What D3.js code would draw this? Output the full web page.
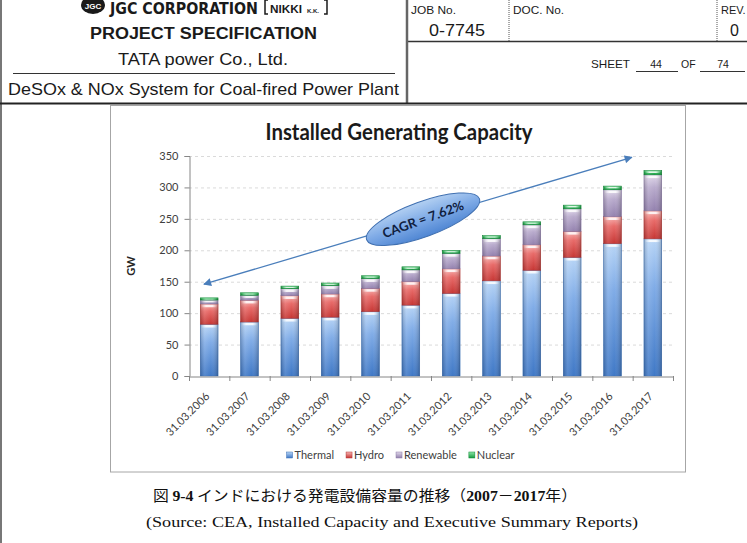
<!DOCTYPE html>
<html>
<head>
<meta charset="utf-8">
<script src="https://cdn.jsdelivr.net/npm/d3@7"></script>
<style>
  html, body { margin: 0; padding: 0; background: #fff; }
  svg { display: block; }
</style>
</head>
<body>
<svg id="page" width="747" height="543"></svg>
<script>
// values (GW at 31 March of each year)
const categories = ["31.03.2006","31.03.2007","31.03.2008","31.03.2009","31.03.2010","31.03.2011",
                    "31.03.2012","31.03.2013","31.03.2014","31.03.2015","31.03.2016","31.03.2017"];
const thermal   = [82.4, 86.0, 91.9, 93.7, 102.5, 112.8, 131.6, 151.5, 168.3, 188.9, 210.7, 218.3];
const hydro     = [32.3, 34.7, 35.9, 36.9, 36.9, 37.6, 39.0, 39.5, 40.5, 41.3, 42.8, 44.5];
const renewable = [6.2, 7.8, 11.1, 13.2, 15.5, 18.5, 24.5, 27.5, 31.7, 35.8, 42.8, 57.3];
const nuclear   = [3.4, 3.9, 4.1, 4.1, 4.6, 4.8, 4.8, 4.8, 4.8, 5.8, 5.8, 6.8];
const seriesNames = ["Thermal", "Hydro", "Renewable", "Nuclear"];
const yTicks = [0, 50, 100, 150, 200, 250, 300, 350];

// CAGR arrow: [category, shift in bands from centre, value]
const cagrLabel = "CAGR = 7.62%";
const cagrFrom = ["31.03.2006", -0.13, 146];
const cagrTo   = ["31.03.2016", 0.48, 348];

const chartTitle = "Installed Generating Capacity";
const yTitle = "GW";

const svg = d3.select("#page");
const defs = svg.append("defs");

// ---------- page header ----------
const head = svg.append("g").attr("font-family", "'Liberation Sans', Arial, sans-serif").attr("fill", "#1a1a1a");

// logo strip at the top of the page
head.append("ellipse").attr("cx", 93).attr("cy", 5).attr("rx", 12).attr("ry", 9).attr("fill", "#1a1a1a");
head.append("text").attr("x", 93).attr("y", 9).attr("text-anchor", "middle")
  .attr("font-size", 8).attr("font-weight", "bold").attr("fill", "#fff").text("JGC");
head.append("text").attr("x", 110).attr("y", 14).attr("font-family", "'Liberation Sans Narrow', 'DejaVu Sans Condensed', sans-serif")
  .attr("font-size", 16).attr("font-weight", "bold").attr("textLength", 148).attr("lengthAdjust", "spacingAndGlyphs")
  .text("JGC CORPORATION");
head.append("path").attr("d", "M268,0 H265 V14 H268 M324,0 H327 V14 H324").attr("fill", "none").attr("stroke", "#1a1a1a").attr("stroke-width", 1.5);
head.append("text").attr("x", 270).attr("y", 13).attr("font-size", 10).attr("font-weight", "bold")
  .attr("textLength", 32).attr("lengthAdjust", "spacingAndGlyphs").text("NIKKI");
head.append("text").attr("x", 307).attr("y", 13).attr("font-size", 6).attr("font-weight", "bold").text("K.K.");

head.append("text").attr("x", 90).attr("y", 39).attr("font-size", 16).attr("font-weight", "bold")
  .attr("textLength", 227).attr("lengthAdjust", "spacingAndGlyphs").text("PROJECT SPECIFICATION");
head.append("text").attr("x", 118).attr("y", 65).attr("font-size", 17)
  .attr("textLength", 170).attr("lengthAdjust", "spacingAndGlyphs").text("TATA power Co., Ltd.");
head.append("line").attr("x1", 13).attr("x2", 395).attr("y1", 73.5).attr("y2", 73.5).attr("stroke", "#333").attr("stroke-width", 1);
head.append("text").attr("x", 8).attr("y", 95).attr("font-size", 17)
  .attr("textLength", 391).attr("lengthAdjust", "spacingAndGlyphs").text("DeSOx & NOx System for Coal-fired Power Plant");

head.append("text").attr("x", 411).attr("y", 14).attr("font-size", 11).attr("textLength", 45).attr("lengthAdjust", "spacingAndGlyphs").text("JOB No.");
head.append("text").attr("x", 513).attr("y", 14).attr("font-size", 11).attr("textLength", 51).attr("lengthAdjust", "spacingAndGlyphs").text("DOC. No.");
head.append("text").attr("x", 721).attr("y", 14).attr("font-size", 11).text("REV.");
head.append("text").attr("x", 429).attr("y", 36).attr("font-size", 16).attr("textLength", 56).attr("lengthAdjust", "spacingAndGlyphs").text("0-7745");
head.append("text").attr("x", 730).attr("y", 36).attr("font-size", 16).text("0");
head.selectAll(".dot").data([509, 717]).enter().append("line")
  .attr("x1", d => d).attr("x2", d => d).attr("y1", 0).attr("y2", 41)
  .attr("stroke", "#555").attr("stroke-width", 1).attr("stroke-dasharray", "1,1");
head.append("line").attr("x1", 407).attr("x2", 747).attr("y1", 41.5).attr("y2", 41.5).attr("stroke", "#333").attr("stroke-width", 1.3);

head.append("text").attr("x", 591).attr("y", 68).attr("font-size", 10.5).attr("textLength", 39).attr("lengthAdjust", "spacingAndGlyphs").text("SHEET");
head.append("text").attr("x", 656).attr("y", 68).attr("font-size", 10.5).attr("text-anchor", "middle").text("44");
head.append("text").attr("x", 681).attr("y", 68).attr("font-size", 10.5).text("OF");
head.append("text").attr("x", 723).attr("y", 68).attr("font-size", 10.5).attr("text-anchor", "middle").text("74");
head.selectAll(".ul").data([[636, 678], [700, 745]]).enter().append("line")
  .attr("x1", d => d[0]).attr("x2", d => d[1]).attr("y1", 71.5).attr("y2", 71.5)
  .attr("stroke", "#333").attr("stroke-width", 1);

// frame lines
head.append("line").attr("x1", 407).attr("x2", 407).attr("y1", 0).attr("y2", 103).attr("stroke", "#666").attr("stroke-width", 2.5);
head.append("line").attr("x1", 1).attr("x2", 1).attr("y1", 0).attr("y2", 543).attr("stroke", "#777").attr("stroke-width", 2);
head.append("line").attr("x1", 0).attr("x2", 747).attr("y1", 103.5).attr("y2", 103.5).attr("stroke", "#222").attr("stroke-width", 2);

// ---------- chart ----------
svg.append("rect").attr("x", 110.5).attr("y", 105.5).attr("width", 575).attr("height", 366.5)
  .attr("fill", "#fff").attr("stroke", "#a6a6a6").attr("stroke-width", 1);

const x = d3.scaleBand().domain(categories).range([189, 673]).paddingInner(0.56).paddingOuter(0.28);
const y = d3.scaleLinear().domain([0, 350]).range([376, 156]);

const chart = svg.append("g").attr("font-family", "Lato, 'Open Sans', sans-serif");

chart.append("text").attr("x", 399).attr("y", 140).attr("text-anchor", "middle")
  .attr("font-size", 22).attr("font-weight", "bold").attr("fill", "#1a1a1a")
  .attr("textLength", 267).attr("lengthAdjust", "spacingAndGlyphs").text(chartTitle);

// grid
chart.append("g").selectAll("line").data(yTicks.filter(d => d > 0)).enter().append("line")
  .attr("x1", x.range()[0]).attr("x2", x.range()[1]).attr("y1", d => y(d) + 0.5).attr("y2", d => y(d) + 0.5)
  .attr("stroke", "#dadada").attr("stroke-dasharray", "3,3");

// y axis
const yAxis = chart.append("g").attr("transform", `translate(${x.range()[0] + 0.5},0)`)
  .call(d3.axisLeft(y).tickValues(yTicks).tickSize(5).tickPadding(6));
yAxis.select(".domain").attr("stroke", "#868686");
yAxis.selectAll(".tick line").attr("stroke", "#868686");
yAxis.selectAll(".tick text").attr("font-family", "Lato, sans-serif").attr("font-size", 11).attr("fill", "#404040");

chart.append("text").attr("transform", `translate(135,${(y(0) + y(350)) / 2}) rotate(-90)`)
  .attr("text-anchor", "middle").attr("font-size", 11).attr("font-weight", "bold").attr("fill", "#262626").text(yTitle);

// series styles
const styles = {
  Thermal:   { top: "#b8d5f6", mid: "#80ace7", bot: "#3f78c6", edge: "#3a6fb5" },
  Hydro:     { top: "#f7b3b1", mid: "#e86a68", bot: "#c63634", edge: "#b03634" },
  Renewable: { top: "#e0d8ea", mid: "#b9abcd", bot: "#9381ae", edge: "#8a78a6" },
  Nuclear:   { top: "#8fe6a8", mid: "#2fc25c", bot: "#149a3e", edge: "#128a38" }
};
seriesNames.forEach((s, i) => {
  const g = defs.append("linearGradient").attr("id", "fill" + i).attr("x1", 0).attr("y1", 0).attr("x2", 0).attr("y2", 1);
  g.append("stop").attr("offset", 0).attr("stop-color", styles[s].top);
  g.append("stop").attr("offset", 0.35).attr("stop-color", styles[s].mid);
  g.append("stop").attr("offset", 1).attr("stop-color", styles[s].bot);
  const l = defs.append("linearGradient").attr("id", "leg" + i).attr("x1", 0).attr("y1", 0).attr("x2", 0).attr("y2", 1);
  l.append("stop").attr("offset", 0).attr("stop-color", styles[s].top);
  l.append("stop").attr("offset", 1).attr("stop-color", styles[s].bot);
});
const side = defs.append("linearGradient").attr("id", "side").attr("x1", 0).attr("x2", 1).attr("y1", 0).attr("y2", 0);
[[0, "#000", 0.18], [0.25, "#fff", 0.12], [0.6, "#fff", 0], [1, "#000", 0.22]].forEach(d =>
  side.append("stop").attr("offset", d[0]).attr("stop-color", d[1]).attr("stop-opacity", d[2]));
const shine = defs.append("linearGradient").attr("id", "shine").attr("x1", 0).attr("x2", 1).attr("y1", 0).attr("y2", 0);
[[0, 0], [0.3, 0.85], [0.7, 0.85], [1, 0]].forEach(d =>
  shine.append("stop").attr("offset", d[0]).attr("stop-color", "#fff").attr("stop-opacity", d[1]));

// stacked bars
const rows = categories.map((c, i) => ({ cat: c, Thermal: thermal[i], Hydro: hydro[i], Renewable: renewable[i], Nuclear: nuclear[i] }));
const stacked = d3.stack().keys(seriesNames)(rows);

const layers = chart.append("g").selectAll("g").data(stacked).enter().append("g");
const seg = layers.selectAll("g").data((d, i) => d.map(p => ({ p, i }))).enter().append("g");
seg.append("rect")
  .attr("x", d => x(d.p.data.cat)).attr("width", x.bandwidth())
  .attr("y", d => y(d.p[1])).attr("height", d => y(d.p[0]) - y(d.p[1]))
  .attr("fill", d => `url(#fill${d.i})`)
  .attr("stroke", d => styles[seriesNames[d.i]].edge).attr("stroke-width", 0.6);
seg.append("rect")
  .attr("x", d => x(d.p.data.cat)).attr("width", x.bandwidth())
  .attr("y", d => y(d.p[1])).attr("height", d => y(d.p[0]) - y(d.p[1]))
  .attr("fill", "url(#side)");
seg.append("rect")
  .attr("x", d => x(d.p.data.cat) + 1).attr("width", x.bandwidth() - 2)
  .attr("y", d => y(d.p[1]) + 0.8).attr("height", d => Math.min(2.5, (y(d.p[0]) - y(d.p[1])) * 0.4))
  .attr("fill", "url(#shine)");

// x axis with ticks between categories
const xAxis = chart.append("g").attr("transform", `translate(0,${y(0) + 0.5})`)
  .call(d3.axisBottom(x).tickSize(0).tickFormat(""));
xAxis.select(".domain").attr("stroke", "#868686");
chart.append("g").selectAll("line").data(d3.range(categories.length + 1)).enter().append("line")
  .attr("x1", i => x.range()[0] + i * x.step() + 0.5).attr("x2", i => x.range()[0] + i * x.step() + 0.5)
  .attr("y1", y(0)).attr("y2", y(0) + 5).attr("stroke", "#868686");
chart.append("g").selectAll("text").data(categories).enter().append("text")
  .attr("transform", d => `translate(${x(d) + x.bandwidth() / 2 + 1},${y(0) + 21}) rotate(-45)`)
  .attr("text-anchor", "end").attr("font-size", 11).attr("fill", "#404040").text(d => d);

// CAGR arrow and callout
const px = a => x(a[0]) + x.bandwidth() / 2 + a[1] * x.step();
const x1 = px(cagrFrom), y1 = y(cagrFrom[2]), x2 = px(cagrTo), y2 = y(cagrTo[2]);
defs.append("marker").attr("id", "arrow").attr("viewBox", "0 0 10 10").attr("refX", 9).attr("refY", 5)
  .attr("markerUnits", "userSpaceOnUse").attr("markerWidth", 9).attr("markerHeight", 8)
  .attr("orient", "auto-start-reverse")
  .append("path").attr("d", "M0,0 L10,5 L0,10 z").attr("fill", "#4a7ebb");
chart.append("line").attr("x1", x1).attr("y1", y1).attr("x2", x2).attr("y2", y2)
  .attr("stroke", "#4a7ebb").attr("stroke-width", 1.3)
  .attr("marker-start", "url(#arrow)").attr("marker-end", "url(#arrow)");

const eg = defs.append("linearGradient").attr("id", "bubble").attr("x1", 0).attr("y1", 0).attr("x2", 0).attr("y2", 1);
eg.append("stop").attr("offset", 0).attr("stop-color", "#b3d0f2");
eg.append("stop").attr("offset", 0.5).attr("stop-color", "#7eaae6");
eg.append("stop").attr("offset", 1).attr("stop-color", "#4f86d3");
const t = 0.512;
const cx = x1 + (x2 - x1) * t, cy = y1 + (y2 - y1) * t;
const bubble = chart.append("g").attr("transform", `translate(${cx},${cy}) rotate(-20)`);
bubble.append("ellipse").attr("rx", 60).attr("ry", 17.5)
  .attr("fill", "url(#bubble)").attr("stroke", "#3f6fb0").attr("stroke-width", 1);
bubble.append("text").attr("text-anchor", "middle").attr("dy", "0.36em")
  .attr("font-size", 13).attr("font-weight", "bold").attr("fill", "#10203e").text(cagrLabel);

// legend
const legend = chart.append("g").attr("transform", "translate(0,455)");
const items = legend.selectAll("g").data(seriesNames).enter().append("g");
items.append("rect").attr("y", -3).attr("width", 6).attr("height", 6)
  .attr("fill", (d, i) => `url(#leg${i})`).attr("stroke", d => styles[d].edge).attr("stroke-width", 0.5);
items.append("text").attr("x", 8).attr("dy", "0.35em").attr("font-size", 11).attr("fill", "#404040").text(d => d);
let widths = [];
items.each(function () { widths.push(8 + d3.select(this).select("text").node().getComputedTextLength()); });
const gap = 12;
const total = d3.sum(widths) + gap * (widths.length - 1);
let cursor = 400.5 - total / 2;
items.attr("transform", (d, i) => { const tx = cursor; cursor += widths[i] + gap; return `translate(${tx},0)`; });

// ---------- caption ----------
const cap = svg.append("text").attr("x", 153).attr("y", 501).attr("font-size", 15).attr("fill", "#111")
  .attr("textLength", 424).attr("lengthAdjust", "spacingAndGlyphs");
const jp = "'Noto Sans CJK JP', sans-serif", num = "'Liberation Serif', serif";
[["図 ", jp, "normal"], ["9-4", num, "bold"], [" インドにおける発電設備容量の推移（", jp, "normal"],
 ["2007", num, "bold"], ["－", jp, "normal"], ["2017", num, "bold"], ["年）", jp, "normal"]]
  .forEach(p => cap.append("tspan").attr("font-family", p[1]).attr("font-weight", p[2]).text(p[0]));

svg.append("text").attr("x", 146).attr("y", 527).attr("font-family", "'Liberation Serif', serif")
  .attr("font-size", 14.5).attr("fill", "#111").attr("textLength", 492).attr("lengthAdjust", "spacingAndGlyphs")
  .text("(Source: CEA, Installed Capacity and Executive Summary Reports)");
</script>
</body>
</html>
